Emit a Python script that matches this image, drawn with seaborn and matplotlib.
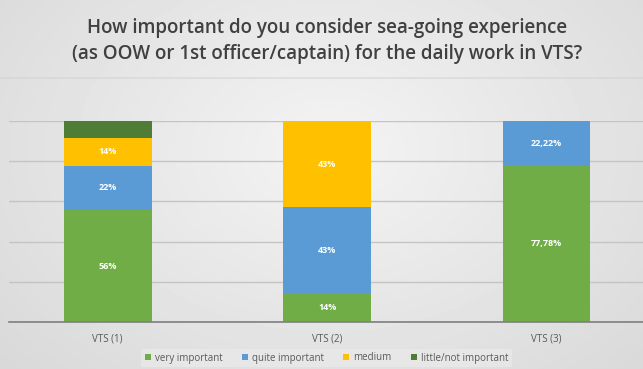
import numpy as np
import pandas as pd
import matplotlib
matplotlib.use("Agg")
import matplotlib.pyplot as plt
import seaborn as sns
from matplotlib.patches import Patch

sites = ["VTS (1)", "VTS (2)", "VTS (3)"]
categories = ["very important", "quite important", "medium", "little/not important"]
very_important = [55.56, 14.29, 77.78]
quite_important = [22.22, 42.86, 22.22]
medium = [13.89, 42.86, 0.0]
little_not_important = [8.33, 0.0, 0.0]
labels_very = ["56%", "14%", "77,78%"]
labels_quite = ["22%", "43%", "22,22%"]
labels_medium = ["14%", "43%", ""]
labels_little = ["", "", ""]

colors = ["#70ad47", "#5b9bd5", "#ffc000", "#4f7d36"]

series = [very_important, quite_important, medium, little_not_important]
labels = [labels_very, labels_quite, labels_medium, labels_little]

df = pd.DataFrame({"site": sites})
for c, s in zip(categories, series):
    df[c] = s
cum = df[categories].cumsum(axis=1)

sns.set_theme(style="white")
plt.rcParams["font.family"] = ["Open Sans", "DejaVu Sans"]

fig = plt.figure(figsize=(6.43, 3.69), dpi=100)

# background gradient
bg = fig.add_axes([0, 0, 1, 1], zorder=-10)
yy, xx = np.mgrid[0:369, 0:643]
r = np.sqrt(((xx - 330) / 420.0) ** 2 + ((yy - 150) / 300.0) ** 2)
val = 0.955 - 0.10 * np.clip(r, 0, 1.2)
bg.imshow(val, cmap="gray", vmin=0, vmax=1, aspect="auto", extent=[0, 643, 369, 0])
bg.plot([0, 643], [78, 78], color="#d2d2d2", lw=1.2, alpha=0.6)
bg.set_xlim(0, 643)
bg.set_ylim(369, 0)
bg.axis("off")

ax = fig.add_axes([9 / 643, 1 - 322 / 369, 1 - 9 / 643, (322 - 121) / 369])
ax.patch.set_alpha(0)

for i in reversed(range(len(categories))):
    sns.barplot(x=df["site"], y=cum[categories[i]], color=colors[i], width=0.4,
                ax=ax, saturation=1, zorder=2, linewidth=0)

for i in range(len(categories)):
    for j in range(len(sites)):
        txt = labels[i][j]
        if txt:
            ymid = cum[categories[i]][j] - series[i][j] / 2
            ax.text(j, ymid, txt, ha="center", va="center", color="white",
                    fontsize=6.5, fontweight="bold", zorder=5)

ax.set_xlim(-0.45, 2.44)
ax.set_ylim(0, 100)
ax.set_yticks([0, 20, 40, 60, 80, 100])
ax.set_yticklabels([])
ax.tick_params(axis="y", length=0)
ax.tick_params(axis="x", length=0, pad=8, labelsize=7, labelcolor="#595959")
ax.yaxis.grid(True, color="#c4c4c4", lw=1)
ax.set_axisbelow(True)
for s in ["top", "right", "left"]:
    ax.spines[s].set_visible(False)
ax.spines["bottom"].set_color("#7f7f7f")
ax.spines["bottom"].set_linewidth(1.2)
ax.set_xlabel("")
ax.set_ylabel("")

fig.text(0.508, 1 - 41 / 369,
         "How important do you consider sea-going experience\n(as OOW or 1st officer/captain) for the daily work in VTS?",
         ha="center", va="center", fontsize=13.5, fontweight="semibold",
         color="#404040", linespacing=1.35)

handles = [Patch(facecolor=c, edgecolor="none") for c in colors]
leg = fig.legend(handles, categories, loc="center", bbox_to_anchor=(0.508, 1 - 358 / 369),
                 ncol=4, frameon=True, fontsize=7, handlelength=0.6, handleheight=0.6,
                 handletextpad=0.4, columnspacing=2.0, borderpad=0.4)
leg.get_frame().set_facecolor("#e9e9e9")
leg.get_frame().set_edgecolor("none")
leg.get_frame().set_alpha(0.8)
for t in leg.get_texts():
    t.set_color("#595959")

fig.savefig("out.png", dpi=100)
